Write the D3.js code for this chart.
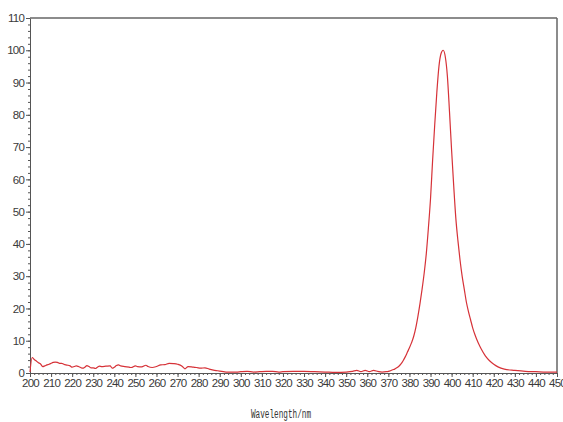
<!DOCTYPE html>
<html lang="en">
<head>
    <meta charset="UTF-8">
    <title>Emission spectrum</title>
    <script src="https://d3js.org/d3.v7.min.js"></script>
    <style>
        body { margin: 0; background: #fff; }
        .line {
            fill: none;
            stroke: rgb(214, 50, 56);
            stroke-width: 1.2px;
        }
        .axis text {
            font-family: "Liberation Sans Narrow", "Liberation Sans", sans-serif;
            font-size: 11.5px;
            letter-spacing: -0.8px;
            fill: #3a3a3a;
        }
        .axis path, .axis line { stroke: #555; }
        .frame { stroke: #666; stroke-width: 1.5px; }
        .label {
            font-family: "Liberation Mono", "DejaVu Sans Mono", monospace;
            font-size: 12px;
            fill: #333;
        }
    </style>
</head>
<body>
    <svg id="chart" width="563" height="422"></svg>

    <script>
        // wavelength (nm) and relative intensity
        var wavelengths = [200, 201, 202, 203, 204, 205, 206, 207, 208, 209, 210, 211, 212, 213, 214, 215,
            216, 217, 218, 219, 220, 221, 222, 223, 224, 225, 226, 227, 228, 229, 230, 231, 232, 233, 234,
            236, 238, 239, 240, 241, 242, 243, 245, 247, 248, 250, 251, 253, 255, 256, 258, 260, 262, 264,
            266, 268, 270, 272, 273.5, 275, 277.5, 279, 281, 283, 285, 287, 289, 291, 293, 296, 298, 300,
            303, 306, 309, 312, 315, 318, 320, 325, 330, 335, 340, 345, 350, 353, 355, 357, 359, 361, 363,
            365, 367, 369, 370, 371, 372, 373, 374, 375, 376, 377, 378, 379, 380, 381, 382, 383, 384, 385,
            386, 387, 388, 389, 390, 391, 392, 393, 394, 395, 396, 397, 398, 399, 400, 401, 402, 403, 404,
            405, 406, 407, 408, 409, 410, 411, 412, 413, 414, 416, 418, 420, 422, 425, 430, 435, 440, 445, 450];

        var intensity = [0.3, 4.8, 4.2, 3.7, 3.2, 2.8, 2.0, 2.2, 2.5, 2.7, 3.0, 3.3, 3.4, 3.3, 3.0, 3.0,
            2.7, 2.5, 2.4, 2.2, 1.8, 2.0, 2.2, 2.0, 1.7, 1.5, 1.8, 2.3, 2.0, 1.6, 1.6, 1.4, 1.8, 2.1, 2.0,
            2.1, 2.2, 1.5, 1.8, 2.3, 2.5, 2.2, 2.0, 1.8, 1.7, 2.2, 2.0, 1.9, 2.4, 2.0, 1.7, 2.0, 2.5, 2.6,
            3.0, 2.9, 2.7, 2.2, 1.3, 2.0, 1.8, 1.7, 1.5, 1.6, 1.2, 0.9, 0.7, 0.5, 0.3, 0.3, 0.3, 0.4,
            0.5, 0.3, 0.4, 0.5, 0.5, 0.3, 0.4, 0.5, 0.5, 0.4, 0.3, 0.2, 0.3, 0.5, 0.8, 0.4, 0.8, 0.4, 0.8,
            0.5, 0.3, 0.4, 0.5, 0.7, 1.0, 1.2, 1.6, 2.1, 2.8, 3.8, 5.0, 6.4, 7.8, 9.4, 11.3, 14, 17.5, 21.5,
            26, 31, 37, 45, 54, 66, 77, 87, 95, 99, 100, 98, 92, 81, 69, 58, 48, 41, 35,
            30, 26, 22, 19, 16.5, 14, 12, 10.3, 8.8, 7.5, 5.3, 3.8, 2.7, 1.9, 1.2, 0.8, 0.5, 0.4, 0.3, 0.3];

        var xTicks = d3.range(200, 451, 10);
        var yTicks = d3.range(0, 111, 10);

        var margin = {top: 18, right: 6, bottom: 49, left: 30},
            width = 563 - margin.left - margin.right,
            height = 422 - margin.top - margin.bottom;

        var data = wavelengths.map(function(w, i) { return {w: w, v: intensity[i]}; });

        var x = d3.scaleLinear().domain([200, 450]).range([0, width]);
        var y = d3.scaleLinear().domain([0, 110]).range([height, 0]);

        var svg = d3.select("#chart")
            .append("g")
            .attr("transform", "translate(" + margin.left + "," + margin.top + ")");

        // minor ticks every 2 units
        svg.append("g")
            .attr("class", "axis")
            .attr("transform", "translate(0," + height + ")")
            .call(d3.axisBottom(x).tickValues(d3.range(200, 451, 2)).tickSize(2).tickFormat(""))
            .select(".domain").remove();

        svg.append("g")
            .attr("class", "axis")
            .call(d3.axisLeft(y).tickValues(d3.range(0, 111, 2)).tickSize(2).tickFormat(""))
            .select(".domain").remove();

        svg.append("g")
            .attr("class", "axis")
            .attr("transform", "translate(0," + height + ")")
            .call(d3.axisBottom(x).tickValues(xTicks).tickSizeInner(4).tickSizeOuter(0).tickPadding(2));

        svg.append("g")
            .attr("class", "axis")
            .call(d3.axisLeft(y).tickValues(yTicks).tickSizeInner(4).tickSizeOuter(0).tickPadding(2));

        // top and right border
        svg.append("line").attr("class", "frame")
            .attr("x1", 0).attr("x2", width).attr("y1", 0).attr("y2", 0);
        svg.append("line").attr("class", "frame")
            .attr("x1", width).attr("x2", width).attr("y1", 0).attr("y2", height);

        var line = d3.line()
            .x(function(d) { return x(d.w); })
            .y(function(d) { return y(d.v); })
            .curve(d3.curveMonotoneX);

        svg.append("path")
            .datum(data)
            .attr("class", "line")
            .attr("d", line);

        svg.append("text")
            .attr("class", "label")
            .attr("x", 251 - margin.left)
            .attr("y", height + 45)
            .attr("textLength", 60)
            .attr("lengthAdjust", "spacingAndGlyphs")
            .text("Wavelength/nm");
    </script>
</body>
</html>
